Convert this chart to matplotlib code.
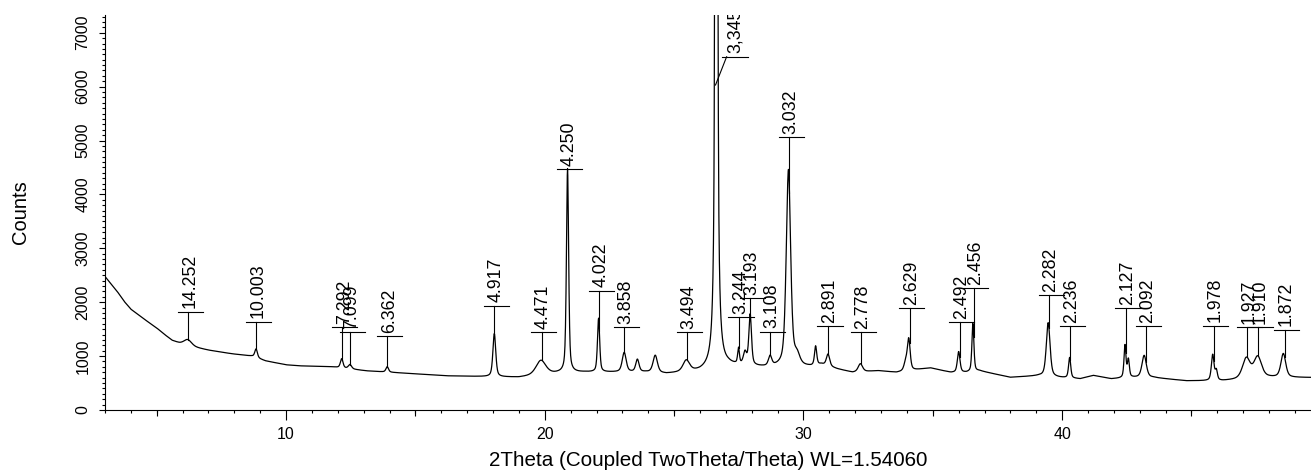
import numpy as np
import matplotlib
matplotlib.use("Agg")
import matplotlib.pyplot as plt
import matplotlib.ticker as ticker

plt.rcParams["font.family"] = ["Liberation Sans", "DejaVu Sans"]

# background of the scan (2theta, counts)
base_x = [3.0, 3.25, 3.5, 3.75, 4.0, 4.5, 5.0, 5.3, 5.6, 5.9, 6.5, 7.0, 7.9, 8.68,
          9.2, 10.0, 10.5, 11.8, 13.1, 15.0, 16.2, 19.0, 20.5, 21.5, 22.5, 23.9,
          24.7, 26.0, 27.1, 28.5, 30.3, 30.7, 31.3, 31.9, 32.9, 33.6, 34.9, 35.7,
          36.3, 36.8, 38.0, 39.1, 39.9, 40.7, 41.2, 41.9, 42.7, 43.5, 44.8, 46.2,
          48.0, 49.62]
base_y = [2477, 2330, 2180, 2010, 1870, 1690, 1520, 1400, 1290, 1235, 1160, 1110,
          1043, 1000, 912, 838, 819, 800, 726, 670, 633, 605, 680, 700, 700, 700,
          670, 715, 820, 790, 800, 840, 758, 695, 726, 695, 780, 695,
          695, 726, 605, 633, 601, 577, 640, 577, 601, 601, 540, 540,
          601, 601]

# reflections: position (2theta), height above background, fwhm
peak_pos = [6.2, 8.84, 12.15, 12.47, 13.91, 18.05, 19.85, 20.88, 22.08, 23.07,
            23.58, 24.27, 25.47, 26.63, 27.49, 27.74, 27.94, 28.71, 29.42, 29.75,
            30.47, 30.95, 32.2, 33.95, 34.07, 36.0, 36.55, 39.46, 40.29, 42.43,
            42.56, 43.17, 45.82, 45.96, 47.12, 47.56, 48.55]
peak_amp = [110, 160, 170, 80, 100, 800, 270, 3780, 995, 360,
            230, 320, 210, 50000, 290, 230, 940, 180, 3650, 180,
            350, 220, 150, 150, 580, 385, 890, 1000, 380, 600,
            330, 410, 480, 180, 380, 390, 440]
peak_fwhm = [0.35, 0.12, 0.12, 0.15, 0.12, 0.13, 0.45, 0.1, 0.1, 0.18,
             0.15, 0.2, 0.3, 0.07, 0.08, 0.15, 0.12, 0.15, 0.2, 0.25,
             0.1, 0.15, 0.2, 0.15, 0.13, 0.12, 0.09, 0.17, 0.1, 0.09,
             0.09, 0.2, 0.12, 0.1, 0.35, 0.35, 0.22]

# d-spacing labels: text, position, height of the bar
label_text = ["14.252", "10.003", "7.292", "7.099", "6.362", "4.917", "4.471",
              "4.250", "4.022", "3.858", "3.494", "3.244", "3.193", "3.108",
              "3.032", "2.891", "2.778", "2.629", "2.492", "2.456", "2.282",
              "2.236", "2.127", "2.092", "1.978", "1.927", "1.910", "1.872"]
label_x = [6.21, 8.85, 12.18, 12.48, 13.92, 18.05, 19.88, 20.88, 22.11, 23.08,
           25.5, 27.5, 27.95, 28.72, 29.46, 30.94, 32.22, 34.1, 36.04, 36.58,
           39.49, 40.31, 42.46, 43.24, 45.86, 47.15, 47.57, 48.6]
label_bar = [1825, 1639, 1533, 1447, 1372, 1937, 1440, 4464, 2216, 1533,
             1440, 1719, 2080, 1453, 5065, 1551, 1440, 1886, 1626, 2259,
             2136, 1551, 1894, 1551, 1564, 1533, 1533, 1490]

# the off-scale main reflection has its label pushed aside
main_text = "3,345"
main_label_x = 27.35
main_bar = 6555
main_leader_x = [27.03, 26.6]
main_leader_y = [6555, 6030]

two_theta = np.arange(3.0, 49.62, 0.01)
counts = np.interp(two_theta, base_x, base_y)
for p, a, w in zip(peak_pos, peak_amp, peak_fwhm):
    u = (two_theta - p) / w
    counts = counts + a * (0.5 / (1 + 4 * u**2) + 0.5 * np.exp(-4 * np.log(2) * u**2))

fig = plt.figure(figsize=(13.11, 4.72), dpi=100)
ax = fig.add_axes([0.0801, 0.1314, 0.9199, 0.8369])

ax.plot(two_theta, counts, color="black", lw=0.9)

for t, x, b in zip(label_text, label_x, label_bar):
    top = np.interp(x, two_theta, counts)
    ax.plot([x, x], [top, b], color="black", lw=0.8)
    ax.plot([x - 0.4, x + 0.57], [b, b], color="black", lw=0.8)
    ax.text(x + 0.07, b + 60, t, rotation=90, ha="center", va="bottom", fontsize=12.8)

ax.plot(main_leader_x, main_leader_y, color="black", lw=0.8)
ax.plot([main_label_x - 0.48, main_label_x + 0.49], [main_bar, main_bar], color="black", lw=0.8)
ax.text(main_label_x, main_bar + 60, main_text, rotation=90, ha="center", va="bottom",
        fontsize=12.8, clip_on=True)

ax.set_xlim(3.0, 49.62)
ax.set_ylim(0, 7330)
for s in ["top", "right"]:
    ax.spines[s].set_visible(False)
ax.spines["left"].set_linewidth(0.8)
ax.spines["bottom"].set_linewidth(0.8)

ax.xaxis.set_major_locator(ticker.MultipleLocator(10))
ax.xaxis.set_minor_locator(ticker.MultipleLocator(1))
ax.yaxis.set_major_locator(ticker.MultipleLocator(1000))
ax.yaxis.set_minor_locator(ticker.MultipleLocator(100))
ax.tick_params(axis="x", which="major", length=7, width=0.8, pad=5, labelsize=11.5)
ax.tick_params(axis="x", which="minor", length=2.5, width=0.8)
ax.tick_params(axis="y", which="major", length=4.5, width=0.8, pad=6, labelsize=11.5)
ax.tick_params(axis="y", which="minor", length=2.2, width=0.8)
for lab in ax.get_yticklabels():
    lab.set_rotation(90)
    lab.set_va("center")

sec = ax.secondary_xaxis("bottom")
sec.set_xticks([5, 15, 25, 35, 45])
sec.tick_params(length=4.3, width=0.8, labelbottom=False)
sec.spines["bottom"].set_visible(False)

ax.set_ylabel("Counts", fontsize=14.5)
ax.yaxis.set_label_coords(-0.062, 0.5)
ax.set_xlabel("2Theta (Coupled TwoTheta/Theta) WL=1.54060", fontsize=14.9)
ax.xaxis.set_label_coords(0.5, -0.105)

fig.savefig("out.png", dpi=100)
